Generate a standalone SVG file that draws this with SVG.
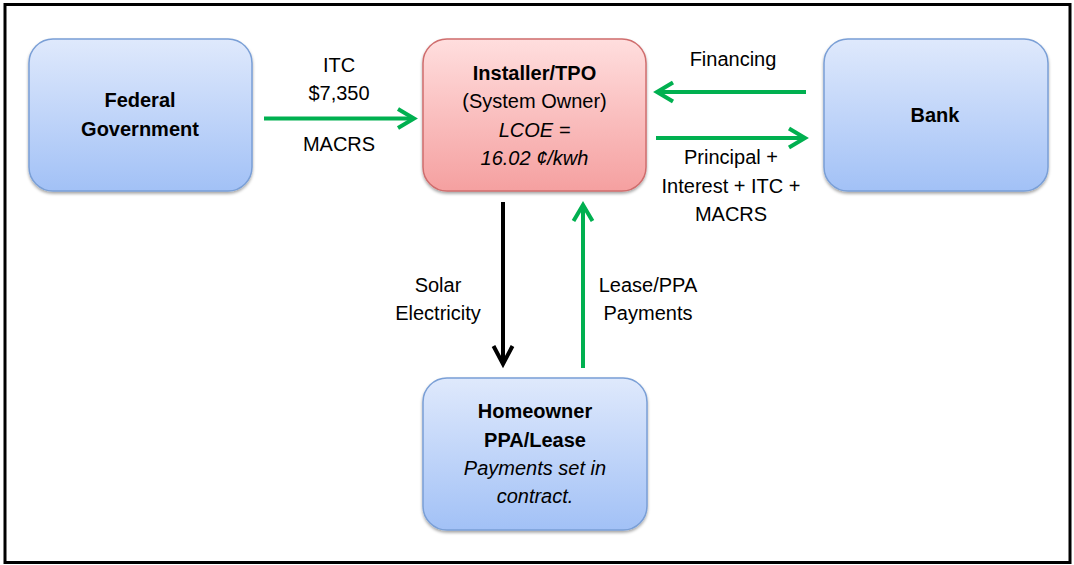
<svg xmlns="http://www.w3.org/2000/svg" width="1074" height="565" viewBox="0 0 1074 565">
<defs>
<linearGradient id="gBlue" x1="0" y1="0" x2="0" y2="1">
<stop offset="0" stop-color="#dfe9fc"/>
<stop offset="1" stop-color="#a2c1f6"/>
</linearGradient>
<linearGradient id="gRed" x1="0" y1="0" x2="0" y2="1">
<stop offset="0" stop-color="#ffdede"/>
<stop offset="1" stop-color="#f5a0a0"/>
</linearGradient>
<filter id="sh" x="-10%" y="-10%" width="120%" height="130%">
<feDropShadow dx="0" dy="2" stdDeviation="1.5" flood-color="#000" flood-opacity="0.35"/>
</filter>
<marker id="ag" markerUnits="userSpaceOnUse" markerWidth="30" markerHeight="30" viewBox="-22 -15 30 30" refX="0" refY="0" orient="auto">
<path d="M-16,-9.5 L0,0 L-16,9.5" fill="none" stroke="#00b050" stroke-width="4"/>
</marker>
<marker id="ak" markerUnits="userSpaceOnUse" markerWidth="30" markerHeight="30" viewBox="-22 -15 30 30" refX="0" refY="0" orient="auto">
<path d="M-18,-9.5 L0,0 L-18,9.5" fill="none" stroke="#000" stroke-width="4"/>
</marker>
</defs>
<style>
text{font-family:"Liberation Sans",Arial,sans-serif;font-size:20px;fill:#000;text-anchor:middle}
.b{font-weight:bold}
.i{font-style:italic}
.blue{fill:url(#gBlue);stroke:#7a9fd6;stroke-width:1.5;filter:url(#sh)}
.red{fill:url(#gRed);stroke:#cf6d6d;stroke-width:1.5;filter:url(#sh)}
.g{stroke:#00b050;stroke-width:4;fill:none;marker-end:url(#ag)}
.k{stroke:#000;stroke-width:4;fill:none;marker-end:url(#ak)}
</style>
<rect x="0" y="0" width="1074" height="565" fill="#fff"/>
<rect x="5" y="4.5" width="1065" height="558" fill="#fff" stroke="#000" stroke-width="3"/>

<g id="connectors">
<line class="g" x1="264" y1="118.5" x2="414" y2="118.5"/>
<line class="g" x1="806" y1="92" x2="657" y2="92"/>
<line class="g" x1="656" y1="138" x2="805" y2="138"/>
<line class="k" x1="503" y1="202" x2="503" y2="364"/>
<line class="g" x1="583" y1="368" x2="583" y2="205"/>
<text x="339" y="72">ITC</text>
<text x="339" y="100">$7,350</text>
<text x="339" y="151">MACRS</text>
<text x="733" y="66">Financing</text>
<text x="731" y="164">Principal +</text>
<text x="731" y="193">Interest + ITC +</text>
<text x="731" y="221">MACRS</text>
<text x="438" y="292">Solar</text>
<text x="438" y="320">Electricity</text>
<text x="648" y="292">Lease/PPA</text>
<text x="648" y="320">Payments</text>
</g>

<g id="federal">
<rect class="blue" x="29" y="39" width="223" height="152" rx="24"/>
<text class="b" x="140" y="107">Federal</text>
<text class="b" x="140" y="136">Government</text>
</g>

<g id="installer">
<rect class="red" x="423" y="39" width="223" height="152" rx="24"/>
<text class="b" x="534.5" y="80">Installer/TPO</text>
<text x="534.5" y="108">(System Owner)</text>
<text class="i" x="534.5" y="137">LCOE =</text>
<text class="i" x="534.5" y="165">16.02 ¢/kwh</text>
</g>

<g id="bank">
<rect class="blue" x="824" y="39" width="224" height="152" rx="24"/>
<text class="b" x="935" y="122">Bank</text>
</g>

<g id="homeowner">
<rect class="blue" x="423" y="378" width="224" height="152" rx="24"/>
<text class="b" x="535" y="418">Homeowner</text>
<text class="b" x="535" y="447">PPA/Lease</text>
<text class="i" x="535" y="475">Payments set in</text>
<text class="i" x="535" y="503">contract.</text>
</g>
</svg>
